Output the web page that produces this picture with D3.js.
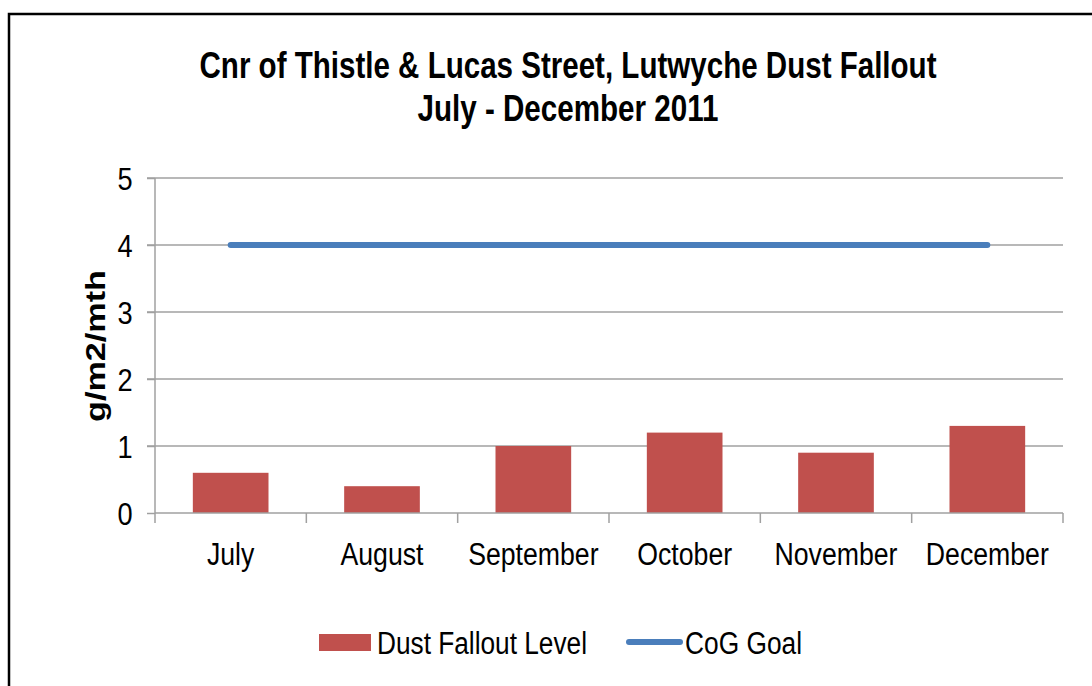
<!DOCTYPE html>
<html><head><meta charset="utf-8">
<script src="https://cdn.jsdelivr.net/npm/d3@7"></script>
<style>body{margin:0;background:#fff}svg{display:block}</style>
</head><body>
<script>
const categories = ["July","August","September","October","November","December"];
const dustValues = [0.6,0.4,1.0,1.2,0.9,1.3];
const goalValues = [4,4,4,4,4,4];
const yTicks = [0,1,2,3,4,5];
const titleLines = ["Cnr of Thistle & Lucas Street, Lutwyche Dust Fallout","July - December 2011"];
const seriesNames = ["Dust Fallout Level","CoG Goal"];
const yLabel = "g/m2/mth";

const W=1092,H=686;
const svg=d3.select("body").append("svg").attr("width",W).attr("height",H);
const font="'Liberation Sans Narrow','Liberation Sans',Arial,sans-serif";

svg.append("rect").attr("x",9).attr("y",14).attr("width",1200).attr("height",800)
  .attr("fill","#fff").attr("stroke","#000").attr("stroke-width",2.5);

const x=d3.scaleBand().domain(categories).range([155,1063]).paddingInner(0.5).paddingOuter(0.25);
const y=d3.scaleLinear().domain([0,5]).range([513,178]);

function fit(sel,len){sel.each(function(){this.setAttribute("textLength",len);this.setAttribute("lengthAdjust","spacingAndGlyphs");});}
function squeeze(sel,f){sel.each(function(){const l=this.getComputedTextLength();this.setAttribute("textLength",l*f);this.setAttribute("lengthAdjust","spacingAndGlyphs");});}

// gridlines
svg.append("g").selectAll("line").data(yTicks.filter(d=>d>0)).join("line")
  .attr("x1",147).attr("x2",1063).attr("y1",d=>y(d)).attr("y2",d=>y(d))
  .attr("stroke","#a0a0a0").attr("stroke-width",1.5);

// y axis
const ya=svg.append("g").attr("transform","translate(155,0)")
  .call(d3.axisLeft(y).tickValues(yTicks).tickSize(8).tickPadding(22).tickFormat(d3.format("d")));
ya.select(".domain").attr("stroke","#a0a0a0").attr("stroke-width",1.5).attr("d","M0,178V513");
ya.selectAll(".tick line").attr("stroke","#a0a0a0").attr("stroke-width",1.5);
ya.selectAll(".tick text").attr("font-family",font).attr("font-size",32).attr("fill","#000").attr("dy","0.35em")
  .attr("text-anchor","middle").call(squeeze,0.85);

// bars
svg.append("g").selectAll("rect").data(dustValues).join("rect")
  .attr("x",(d,i)=>x(categories[i])).attr("width",x.bandwidth())
  .attr("y",d=>y(d)).attr("height",d=>y(0)-y(d)).attr("fill","#c0504d");

// x axis
const xa=svg.append("g").attr("transform","translate(0,513)")
  .call(d3.axisBottom(x).tickSize(0).tickPadding(30));
xa.select(".domain").attr("stroke","#a0a0a0").attr("stroke-width",1.5).attr("d","M155,0H1063");
xa.selectAll(".tick text").attr("font-family",font).attr("font-size",31).attr("fill","#000").call(squeeze,0.86);
const step=x.step();
svg.append("g").selectAll("line").data(d3.range(categories.length+1)).join("line")
  .attr("x1",i=>155+i*step).attr("x2",i=>155+i*step).attr("y1",513).attr("y2",523)
  .attr("stroke","#a0a0a0").attr("stroke-width",1.5);

// goal line
const line=d3.line().x((d,i)=>x(categories[i])+x.bandwidth()/2).y(d=>y(d));
svg.append("path").datum(goalValues).attr("d",line).attr("fill","none")
  .attr("stroke","#4a7ebb").attr("stroke-width",6).attr("stroke-linecap","round");

// title
svg.append("text").attr("x",568).attr("y",78).attr("text-anchor","middle")
  .attr("font-family",font).attr("font-weight","bold").attr("font-size",36).text(titleLines[0]).call(fit,737);
svg.append("text").attr("x",568).attr("y",121).attr("text-anchor","middle")
  .attr("font-family",font).attr("font-weight","bold").attr("font-size",36).text(titleLines[1]).call(fit,301);

// y label
svg.append("text").attr("transform","translate(105,346) rotate(-90)").attr("text-anchor","middle")
  .attr("font-family","'Liberation Sans',Arial,sans-serif").attr("font-weight","bold").attr("font-size",27)
  .text(yLabel).call(fit,152);

// legend
svg.append("rect").attr("x",319).attr("y",634).attr("width",52).attr("height",17).attr("fill","#c0504d");
svg.append("text").attr("x",377).attr("y",654).attr("font-family",font).attr("font-size",31).text(seriesNames[0]).call(fit,210);
svg.append("line").attr("x1",629).attr("x2",680).attr("y1",642).attr("y2",642)
  .attr("stroke","#4a7ebb").attr("stroke-width",6).attr("stroke-linecap","round");
svg.append("text").attr("x",685).attr("y",654).attr("font-family",font).attr("font-size",31).text(seriesNames[1]).call(fit,117);
</script>
</body></html>
